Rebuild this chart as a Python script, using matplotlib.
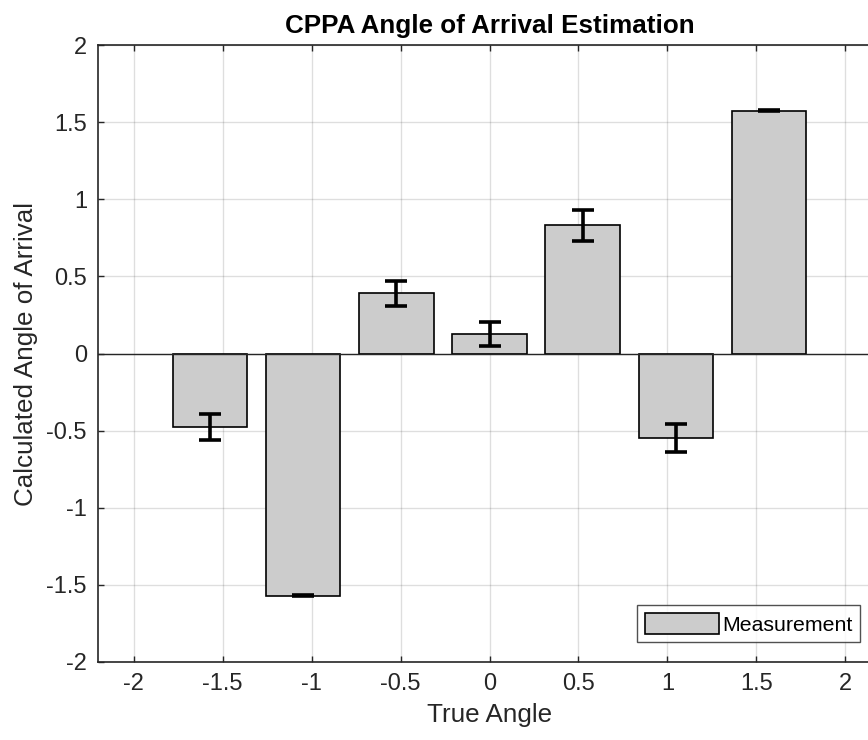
import matplotlib
matplotlib.use("Agg")
import matplotlib.pyplot as plt

# True arrival angles (radians) and the measured estimates
true_angle = [-1.5708, -1.0472, -0.5236, 0.0, 0.5236, 1.0472, 1.5708]
calc_angle = [-0.476, -1.570, 0.389, 0.128, 0.830, -0.550, 1.575]
calc_err = [0.087, 0.004, 0.081, 0.077, 0.103, 0.090, 0.004]

x_ticks = [-2, -1.5, -1, -0.5, 0, 0.5, 1, 1.5, 2]
x_ticklabels = ["-2", "-1.5", "-1", "-0.5", "0", "0.5", "1", "1.5", "2"]
y_ticks = [-2, -1.5, -1, -0.5, 0, 0.5, 1, 1.5, 2]
y_ticklabels = ["-2", "-1.5", "-1", "-0.5", "0", "0.5", "1", "1.5", "2"]

plt.rcParams["font.family"] = ["Liberation Sans", "DejaVu Sans"]
txt = "#262626"

W, H = 868, 740
fig = plt.figure(figsize=(W / 100, H / 100), dpi=100)
ax = fig.add_axes([98 / W, (H - 662) / H, (881 - 98) / W, (662 - 45) / H])

width = 0.8 * (true_angle[1] - true_angle[0])
ax.bar(true_angle, calc_angle, width=width, color="#cccccc",
       edgecolor="black", linewidth=1.2, label="Measurement", zorder=3)
ax.axhline(0, color="#262626", linewidth=1.0, zorder=4)
ax.errorbar(true_angle, calc_angle, yerr=calc_err, fmt="none", ecolor="black",
            elinewidth=2.6, capsize=8.2, capthick=2.6, zorder=5)

ax.set_xlim(-2.2, 2.2)
ax.set_ylim(-2, 2)
ax.set_xticks(x_ticks)
ax.set_xticklabels(x_ticklabels)
ax.set_yticks(y_ticks)
ax.set_yticklabels(y_ticklabels)

ax.grid(True, color="#262626", alpha=0.15, linewidth=1.0, zorder=0)
ax.set_axisbelow(True)
ax.tick_params(direction="in", top=True, right=True, length=4.5, width=1.0,
               colors=txt, labelsize=17, pad=8)
for s in ax.spines.values():
    s.set_color(txt)
    s.set_linewidth(1.2)

ax.set_title("CPPA Angle of Arrival Estimation", fontsize=18.7,
             fontweight="bold", color="black", pad=9)
ax.set_xlabel("True Angle", fontsize=18.7, color=txt, labelpad=6)
ax.set_ylabel("Calculated Angle of Arrival", fontsize=18.7, color=txt, labelpad=6)

leg = ax.legend(loc="lower right", bbox_to_anchor=(860 / W, (H - 642) / H),
                bbox_transform=fig.transFigure, fontsize=15.3, frameon=True,
                fancybox=False, handlelength=3.5, handleheight=1.15,
                handletextpad=0.15, borderpad=0.35, borderaxespad=0)
leg.get_frame().set_edgecolor(txt)
leg.get_frame().set_linewidth(1.0)
for t in leg.get_texts():
    t.set_color("black")

fig.savefig("out.png", dpi=100)
